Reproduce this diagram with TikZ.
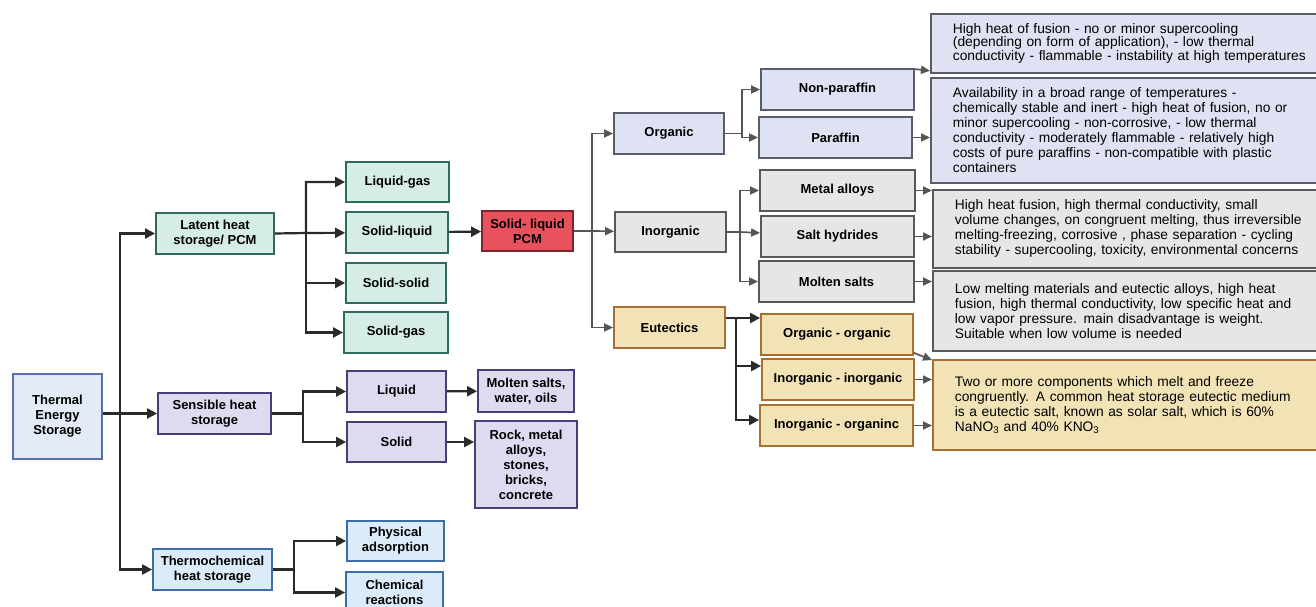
\documentclass[tikz,border=0pt]{standalone}
\usepackage{fontspec}
\setmainfont{Liberation Sans}
\usepackage{xcolor}
\usepackage{tikz}
\usetikzlibrary{arrows.meta,calc}
\usetikzlibrary{positioning}

\definecolor{tesfill}{HTML}{E3EBF7}
\definecolor{tesdraw}{HTML}{5670B0}
\definecolor{latfill}{HTML}{D5ECE7}
\definecolor{latdraw}{HTML}{2E6B5E}
\definecolor{senfill}{HTML}{DEDAF0}
\definecolor{sendraw}{HTML}{4A3D78}
\definecolor{thcfill}{HTML}{DCEBF9}
\definecolor{thcdraw}{HTML}{3B6FA6}
\definecolor{pcmfill}{HTML}{E8525C}
\definecolor{pcmdraw}{HTML}{7A2530}
\definecolor{orgfill}{HTML}{DFE2F2}
\definecolor{orgdraw}{HTML}{595D6B}
\definecolor{inofill}{HTML}{E6E6E6}
\definecolor{inodraw}{HTML}{585858}
\definecolor{eutfill}{HTML}{F1E3B6}
\definecolor{eutdraw}{HTML}{A86F32}
\definecolor{linkdark}{HTML}{2A2A2A}
\definecolor{linkgray}{HTML}{555555}

\begin{document}
\begin{tikzpicture}
[x=1pt,y=-1pt,
font=\fontsize{13}{15}\selectfont\bfseries,
box/.style={rectangle,draw,line width=1.8pt,align=center,inner sep=1pt},
tes/.style={box,fill=tesfill,draw=tesdraw},
lat/.style={box,fill=latfill,draw=latdraw},
sen/.style={box,fill=senfill,draw=sendraw},
thc/.style={box,fill=thcfill,draw=thcdraw},
pcm/.style={box,fill=pcmfill,draw=pcmdraw},
org/.style={box,fill=orgfill,draw=orgdraw},
ino/.style={box,fill=inofill,draw=inodraw},
eut/.style={box,fill=eutfill,draw=eutdraw},
desc/.style={rectangle,draw,line width=1.8pt,anchor=north west,align=left,
  text width=372pt,inner xsep=22pt,inner ysep=0pt,
  font=\fontsize{13.8}{15}\selectfont},
link/.style={draw=linkdark,line width=2.2pt,-{Triangle[length=10pt,width=10pt]}},
glink/.style={draw=linkgray,line width=1.7pt,-{Triangle[length=9pt,width=8pt]}}]

\useasboundingbox (0,0) rectangle (1316,607);

\node (tes) at (57.5,416.5) [tes,minimum width=89pt,minimum height=85pt] {Thermal\\Energy\\Storage};
\node (lat) at (215,233.5) [lat,minimum width=118pt,minimum height=41pt] {Latent heat\\storage/ PCM};
\node (sen) at (214.5,413.5) [sen,minimum width=113pt,minimum height=41pt] {Sensible heat\\storage};
\node (thc) at (212.5,569.5) [thc,minimum width=119pt,minimum height=41pt] {Thermochemical\\heat storage};

\node (lg) at (397.5,182) [lat,minimum width=103pt,minimum height=40pt] {Liquid-gas};
\node (sl) at (397,232.5) [lat,minimum width=102pt,minimum height=41pt] {Solid-liquid};
\node (ss) at (396,283) [lat,minimum width=100pt,minimum height=40pt] {Solid-solid};
\node (sg) at (396,332.5) [lat,minimum width=104pt,minimum height=41pt] {Solid-gas};
\node (liq) at (396.5,391.5) [sen,minimum width=99pt,minimum height=41pt] {Liquid};
\node (sol) at (396.5,442) [sen,minimum width=99pt,minimum height=40pt] {Solid};
\node (mwo) at (526,391) [sen,minimum width=96pt,minimum height=42pt] {Molten salts,\\water, oils};
\node (rock) at (526,464.5) [sen,minimum width=102pt,minimum height=87pt] {Rock, metal\\alloys,\\stones,\\bricks,\\concrete};
\node (phy) at (395.5,541) [thc,minimum width=97pt,minimum height=40pt] {Physical\\adsorption};
\node (che) at (394.5,592.5) [thc,minimum width=97pt,minimum height=41pt] {Chemical\\reactions};

\node (pcm) at (527.5,231) [pcm,minimum width=91pt,minimum height=40pt] {Solid- liquid\\PCM};
\node (org) at (669,133.5) [org,minimum width=110pt,minimum height=41pt] {Organic};
\node (ino) at (670.5,232) [ino,minimum width=111pt,minimum height=40pt] {Inorganic};
\node (eut) at (669.5,327.5) [eut,minimum width=111pt,minimum height=41pt] {Eutectics};

\node (np) at (837.5,89.5) [org,minimum width=153pt,minimum height=41pt] {Non-paraffin};
\node (par) at (835.5,137.5) [org,minimum width=153pt,minimum height=41pt] {Paraffin};
\node (ma) at (837.5,190.5) [ino,minimum width=155pt,minimum height=41pt] {Metal alloys};
\node (sh) at (837.5,236.5) [ino,minimum width=153pt,minimum height=41pt] {Salt hydrides};
\node (ms) at (836.5,281.5) [ino,minimum width=155pt,minimum height=41pt] {Molten salts};
\node (oo) at (837,334.5) [eut,minimum width=152pt,minimum height=41pt] {Organic - organic};
\node (ii) at (838,379.5) [eut,minimum width=152pt,minimum height=41pt] {Inorganic - inorganic};
\node (io) at (836.5,425.5) [eut,minimum width=153pt,minimum height=41pt] {Inorganic - organinc};

\node (d1) at (930,13) [desc,fill=orgfill,draw=orgdraw,minimum height=59pt,font=\fontsize{13.8}{13.5}\selectfont]
{High heat of fusion - no or minor supercooling\\(depending on form of application), - low thermal\\conductivity - flammable - instability at high temperatures};
\node (d2) at (930,77) [desc,fill=orgfill,draw=orgdraw,minimum height=105pt]
{Availability in a broad range of temperatures -\\chemically stable and inert - high heat of fusion, no or\\minor supercooling - non-corrosive, - low thermal\\conductivity - moderately flammable - relatively high\\costs of pure paraffins - non-compatible with plastic\\containers};
\node (d3) at (932,189) [desc,fill=inofill,draw=inodraw,minimum height=78pt]
{High heat fusion, high thermal conductivity, small\\volume changes, on congruent melting, thus irreversible\\melting-freezing, corrosive , phase separation - cycling\\stability - supercooling, toxicity, environmental concerns};
\node (d4) at (932,270) [desc,fill=inofill,draw=inodraw,minimum height=80pt]
{Low melting materials and eutectic alloys, high heat\\fusion, high thermal conductivity, low specific heat and\\low vapor pressure. main disadvantage is weight.\\Suitable when low volume is needed};
\node (d5) at (932,359) [desc,fill=eutfill,draw=eutdraw,minimum height=90pt]
{Two or more components which melt and freeze\\congruently. A common heat storage eutectic medium\\is a eutectic salt, known as solar salt, which is 60\%\\NaNO\textsubscript{3} and 40\% KNO\textsubscript{3}};

\coordinate (f0) at (120,413.5);
\coordinate (f1) at (306,233);
\coordinate (f2) at (303,413.5);
\coordinate (f3) at (294,569.5);
\coordinate (f4) at (592,231);
\coordinate (f5) at (742,133.5);
\coordinate (f6) at (740,232);
\coordinate (f7) at (736,318);

\draw[link] (tes.east |- sen.west) -- (sen.west);
\draw[link] (f0) |- (lat);
\draw[link] (f0) |- (thc);

\draw[link] (lat.east) -- (f1) |- (lg);
\draw[link] (f1) -- (sl);
\draw[link] (f1) |- (ss);
\draw[link] (f1) |- (sg);
\draw[link] (sl) -- (pcm);

\draw[link] (sen.east) -- (f2) |- (liq);
\draw[link] (f2) |- (sol);
\draw[link] (liq) -- (mwo);
\draw[link] (sol.east) -- (rock.west |- sol.east);

\draw[link] (thc.east) -- (f3) |- (phy);
\draw[link] (f3) |- (che);

\draw[glink] (pcm.east) -- (f4) |- (org);
\draw[glink] (f4) -- (ino);
\draw[glink] (f4) |- (eut);

\draw[glink] (org.east) -- (f5) |- (np);
\draw[glink] (f5) |- (par);
\draw[glink] (ino.east) -- (f6) |- (ma);
\draw[glink] (f6) -- (sh);
\draw[glink] (f6) |- (ms);

\draw[link] ([yshift=9.5pt]eut.east) -- (f7) -- ([yshift=16.5pt]oo.west);
\draw[link] (f7) |- ([yshift=13.5pt]ii.west);
\draw[link] (f7) |- ([yshift=5.5pt]io.west);

\draw[glink] ([yshift=-1pt]np.north east) -- ([yshift=3pt]d1.south west);
\draw[glink] (par.east) -- (d2.west |- par.east);
\draw[glink] (ma.east) -- (d3.west |- ma.east);
\draw[glink] (sh.east) -- (d3.west |- sh.east);
\draw[glink] (ms.east) -- (d4.west |- ms.east);
\draw[glink] ([yshift=3pt]oo.south east) -- ([yshift=-1pt]d5.north west);
\draw[glink] (ii.east) -- (d5.west |- ii.east);
\draw[glink] (io.east) -- (d5.west |- io.east);

\end{tikzpicture}
\end{document}
